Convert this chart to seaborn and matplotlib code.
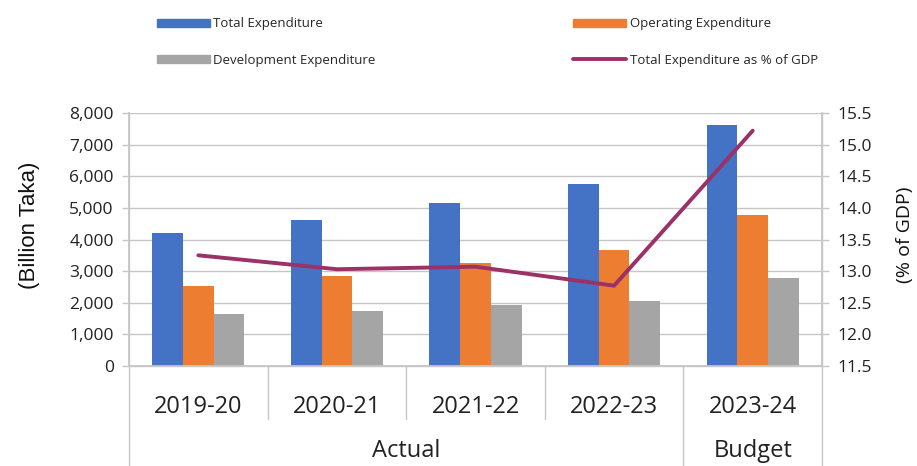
import numpy as np
import pandas as pd
import matplotlib.pyplot as plt
import matplotlib.transforms as mtrans
from matplotlib.patches import Patch
from matplotlib.lines import Line2D
import seaborn as sns

# data
years = ['2019-20', '2020-21', '2021-22', '2022-23', '2023-24']
total_exp = [4210, 4610, 5170, 5740, 7618]
operating_exp = [2530, 2860, 3260, 3670, 4770]
development_exp = [1630, 1730, 1930, 2050, 2780]
exp_pct_gdp = [13.25, 13.03, 13.07, 12.77, 15.22]
groups = ['Actual', 'Actual', 'Actual', 'Actual', 'Budget']

series_names = ['Total Expenditure', 'Operating Expenditure', 'Development Expenditure']
bar_colors = ['#4472C4', '#ED7D31', '#A5A5A5']
line_color = '#9B3166'

df = pd.DataFrame({
    'Year': years * 3,
    'Series': [s for s in series_names for _ in years],
    'Value': total_exp + operating_exp + development_exp,
})

sns.set_theme(style='white')
plt.rcParams['font.family'] = ['Open Sans', 'DejaVu Sans']
grid_col = '#c6c6c6'

fig = plt.figure(figsize=(9.17, 4.66), dpi=100)
ax = fig.add_axes([0.1407, 0.2146, 0.7557, 0.5429])

sns.barplot(data=df, x='Year', y='Value', hue='Series', palette=bar_colors,
            hue_order=series_names, width=0.665, gap=0, saturation=1,
            edgecolor='none', linewidth=0, legend=False, ax=ax, zorder=2)
ax.set_xlim(-0.5, 4.5)
ax.set_ylim(0, 8000)
ax.set_yticks(np.arange(0, 8001, 1000))
ax.set_yticklabels([f'{v:,}' for v in range(0, 8001, 1000)], fontsize=12.5, color='#222222')
ax.yaxis.grid(True, color=grid_col, lw=1, zorder=0)
ax.set_axisbelow(True)
ax.set_xlabel('')
ax.set_ylabel('(Billion Taka)', fontsize=16, color='#111111', family=['Liberation Sans', 'DejaVu Sans'])
ax.yaxis.label.set(va='center', ha='center')
ax.yaxis.set_label_coords(-0.143, 0.557)
ax.tick_params(axis='x', length=0, pad=21, labelsize=17, labelcolor='#222222')
ax.tick_params(axis='y', length=5, width=1, color=grid_col, direction='out', left=True, pad=6)
ax.spines['top'].set_visible(False)
for side in ['left', 'bottom', 'right']:
    ax.spines[side].set_color(grid_col)
    ax.spines[side].set_linewidth(1)

ax2 = ax.twinx()
sns.lineplot(x=np.arange(len(years)), y=exp_pct_gdp, ax=ax2, color=line_color,
             lw=2.8, sort=False, zorder=3)
ax2.set_ylim(11.5, 15.5)
ax2.set_yticks(np.arange(11.5, 15.51, 0.5))
ax2.set_yticklabels([f'{v:.1f}' for v in np.arange(11.5, 15.51, 0.5)], fontsize=12.5, color='#222222')
ax2.set_ylabel('(% of GDP)', fontsize=14, color='#111111', rotation=90)
ax2.yaxis.label.set(va='center', ha='center')
ax2.yaxis.set_label_coords(1.12, 0.518)
ax2.tick_params(axis='y', length=5, width=1, color=grid_col, direction='out', right=True, pad=6)
ax2.spines['top'].set_visible(False)
for side in ['left', 'bottom', 'right']:
    ax2.spines[side].set_color(grid_col)

# two-level category axis: separators and group labels
tr = mtrans.blended_transform_factory(ax.transData, ax.transAxes)
for xs in [0.5, 1.5, 2.5]:
    ax.add_line(Line2D([xs, xs], [0, -0.21], transform=tr, color=grid_col, lw=1, clip_on=False))
for xs in [-0.5, 3.5, 4.5]:
    ax.add_line(Line2D([xs, xs], [0, -0.40], transform=tr, color=grid_col, lw=1, clip_on=False))
for name in ['Actual', 'Budget']:
    idx = [i for i, g in enumerate(groups) if g == name]
    xc = (min(idx) + max(idx)) / 2
    ax.text(xc, -0.335, name, transform=tr, ha='center', va='center', fontsize=17, color='#222222')

handles = [Patch(color=bar_colors[0]), Patch(color=bar_colors[2]),
           Patch(color=bar_colors[1]), Line2D([], [], color=line_color, lw=2.8)]
labels = ['Total Expenditure', 'Development Expenditure',
          'Operating Expenditure', 'Total Expenditure as % of GDP']
fig.legend(handles, labels, ncol=2, loc='upper left', bbox_to_anchor=(0.158, 0.988),
           frameon=False, fontsize=9.5, handlelength=4.0, handleheight=0.55,
           handletextpad=0.3, columnspacing=14.95, labelspacing=1.75)

fig.savefig('out.png', dpi=100)
